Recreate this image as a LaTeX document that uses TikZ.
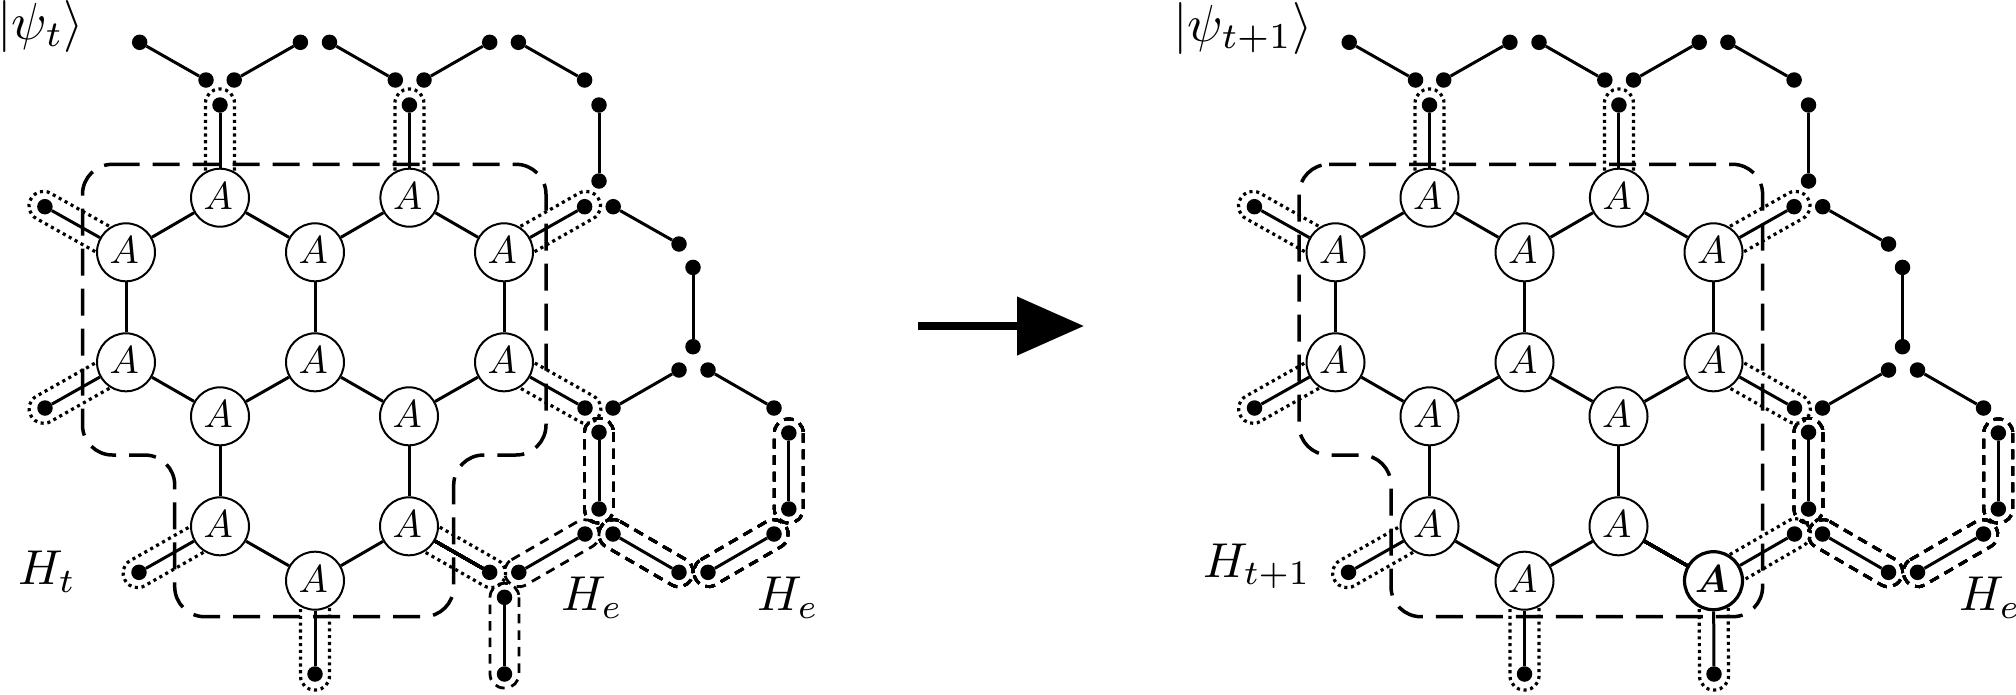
\documentclass[tikz,border=0pt]{standalone}
\usepackage{graphicx}
\usetikzlibrary{calc,backgrounds,arrows.meta}
\newcommand{\bigA}[1]{\raisebox{3.4pt}{\scalebox{3.9}{#1}\hspace*{3.4pt}}}
\newcommand{\bigL}[1]{\scalebox{4.9}{#1}}
\newcommand{\bigK}[1]{\scalebox{5.2}{#1}}
\tikzset{
  x=1pt,y=-1pt,
  anode/.style={circle,draw,fill=white,line width=2pt,minimum size=58pt,inner sep=0pt},
  boldnode/.style={anode,line width=3.2pt},
  dotnode/.style={circle,fill=black,minimum size=15.5pt,inner sep=0pt},
  bond/.style={line width=3pt},
  halodot/.style={line width=3.2pt,dash pattern=on 3.1pt off 3.7pt,rounded corners=14pt},
  halodash/.style={line width=2.8pt,dash pattern=on 9.5pt off 7pt,rounded corners=14pt},
  region/.style={line width=3.5pt,dash pattern=on 27pt off 13pt,rounded corners=30pt},
  lab/.style={anchor=base west,inner sep=0pt},
}
% open halo: closed round the free end #2, running under the A node #1
\newcommand{\openhalo}[3][16pt]{%
  \coordinate (tmpe) at ($(#3)!-#1!(#2)$);
  \draw[halodot] ($(#2)!14.5pt!90:(#3)$) -- ($(tmpe)!14.5pt!-90:(#2)$) -- ($(tmpe)!14.5pt!90:(#2)$) -- ($(#2)!14.5pt!-90:(#3)$);
}
% closed dashed halo round a bond
\newcommand{\closedhalo}[2]{%
  \coordinate (tmpa) at ($(#1)!-14pt!(#2)$);
  \coordinate (tmpb) at ($(#2)!-14pt!(#1)$);
  \draw[halodash] ($(tmpa)!14.5pt!90:(tmpb)$) -- ($(tmpb)!14.5pt!-90:(tmpa)$) -- ($(tmpb)!14.5pt!90:(tmpa)$) -- ($(tmpa)!14.5pt!-90:(tmpb)$) -- cycle;
}
\newcommand{\lattice}[1]{%
  \foreach \n/\x/\y in {a1/220/197.7,a2/409.4/197.7,b1/126/252.3,b2/315/252.3,b3/504/252.3,
    c1/126/362.3,c2/315/362.3,c3/504/362.3,d1/220/416.3,d2/409/416.3,e1/220/526.3,e2/409/526.3,f1/315/580.7}
    \node[anode] (#1\n) at (\x,\y) {\bigA{$A$}};
  \foreach \n/\x/\y in {p1/139.7/42.3,p2/206/80,p3/234.2/80,p4/300.4/42.3,p5/329.5/42.3,p6/395.3/80,p7/424/80,
    p8/489.7/42.3,p9/518.4/42.3,p10/584.6/80,q1/220/105,q2/409.4/105,q3/599/105,q4/599/181,
    r1/44.9/206.7,r2/584.6/206.7,r3/613.2/206.7,r4/679/244,r5/693/267.4,r6/693/346.7,
    s1/679/370,s2/708/370,s3/613/408,s4/585/408,s5/774/408,s6/45/408,
    u1/599/432.3,u2/599/509,u3/788.8/433,u4/788.8/509,v1/585/534,v2/613/534,v3/774/534,
    w1/679/572.3,w2/708/572.3,w3/139/572.3,x1/315/674,y2/504.5/674}
    \node[dotnode] (#1\n) at (\x,\y) {};
}
\newcommand{\common}[1]{%
  \foreach \u/\v in {a1/b1,a1/b2,a2/b2,a2/b3,b1/c1,b2/c2,b3/c3,c1/d1,c2/d1,c2/d2,c3/d2,d1/e1,d2/e2,e1/f1,e2/f1,
    p1/p2,p3/p4,p5/p6,p7/p8,p9/p10,q3/q4,r3/r4,r5/r6,s1/s3,s2/s5,
    a1/q1,a2/q2,b1/r1,b3/r2,c1/s6,c3/s4,e1/w3,u1/u2,u3/u4,v2/w1,w2/v3,f1/x1}
    \draw[bond] (#1\u) -- (#1\v);
  \foreach \u/\v in {a1/q1,a2/q2,b1/r1,b3/r2,c1/s6,c3/s4,e1/w3,f1/x1}
    \openhalo{#1\u}{#1\v}
  \foreach \u/\v in {u1/u2,u3/u4,v2/w1,w2/v3}
    \closedhalo{#1\u}{#1\v}
}
\begin{document}
\begin{tikzpicture}
\useasboundingbox (0,0) rectangle (2016,694);
% left panel
\lattice{L}
\node[dotnode] (Lw4) at (489.7,572.3) {};
\node[dotnode] (Lw5) at (518.8,572.3) {};
\node[dotnode] (Ly1) at (504.5,597.3) {};
% right panel
\begin{scope}[xshift=1209.5pt]
  \lattice{R}
  \node[boldnode] (Rf2) at (504,580.7) {\bigA{\boldmath$A$}};
\end{scope}
\begin{scope}[on background layer]
  \common{L}
  \draw[bond] (Le2) -- (Lw4);
  \draw[bond] (Lw5) -- (Lv1);
  \draw[bond] (Ly1) -- (Ly2);
  \openhalo{Le2}{Lw4}
  \closedhalo{Lw5}{Lv1}
  \closedhalo{Ly1}{Ly2}
  \draw[region] (82.5,164.3) -- (546,164.3) -- (546,455) -- (453.7,455) -- (453.7,616.7)
     -- (174.7,616.7) -- (174.7,455) -- (82.5,455) -- cycle;
  \common{R}
  \draw[bond] (Re2) -- (Rf2);
  \draw[bond] (Rf2) -- (Rv1);
  \draw[bond] (Rf2) -- (Ry2);
  \openhalo{Rf2}{Rv1}
  \openhalo{Rf2}{Ry2}
  \draw[region] (1299,164.3) -- (1762.6,164.3) -- (1762.6,616.7) -- (1391,616.7) -- (1391,455)
     -- (1299,455) -- cycle;
\end{scope}
% arrow between the panels
\coordinate (arrA) at (918,326);
\coordinate (arrB) at (1084,326);
\draw[line width=8pt,-{Triangle[length=67pt,width=57pt]}] (arrA) -- (arrB);
% labels
\node[lab] (kL) at (-3,39) {\bigK{$|\psi_t\rangle$}};
\node[lab] (kR) at (1173,41) {\bigK{$|\psi_{t+1}\rangle$}};
\node[lab] (hT) at (18,584.7) {\bigL{$H_t$}};
\node[lab] (hE1) at (561,610.7) {\bigL{$H_e$}};
\node[lab] (hE2) at (757,610.7) {\bigL{$H_e$}};
\node[lab] (hT2) at (1203,577) {\bigL{$H_{t+1}$}};
\node[lab] (hE3) at (1959,610.7) {\bigL{$H_e$}};
\end{tikzpicture}
\end{document}
